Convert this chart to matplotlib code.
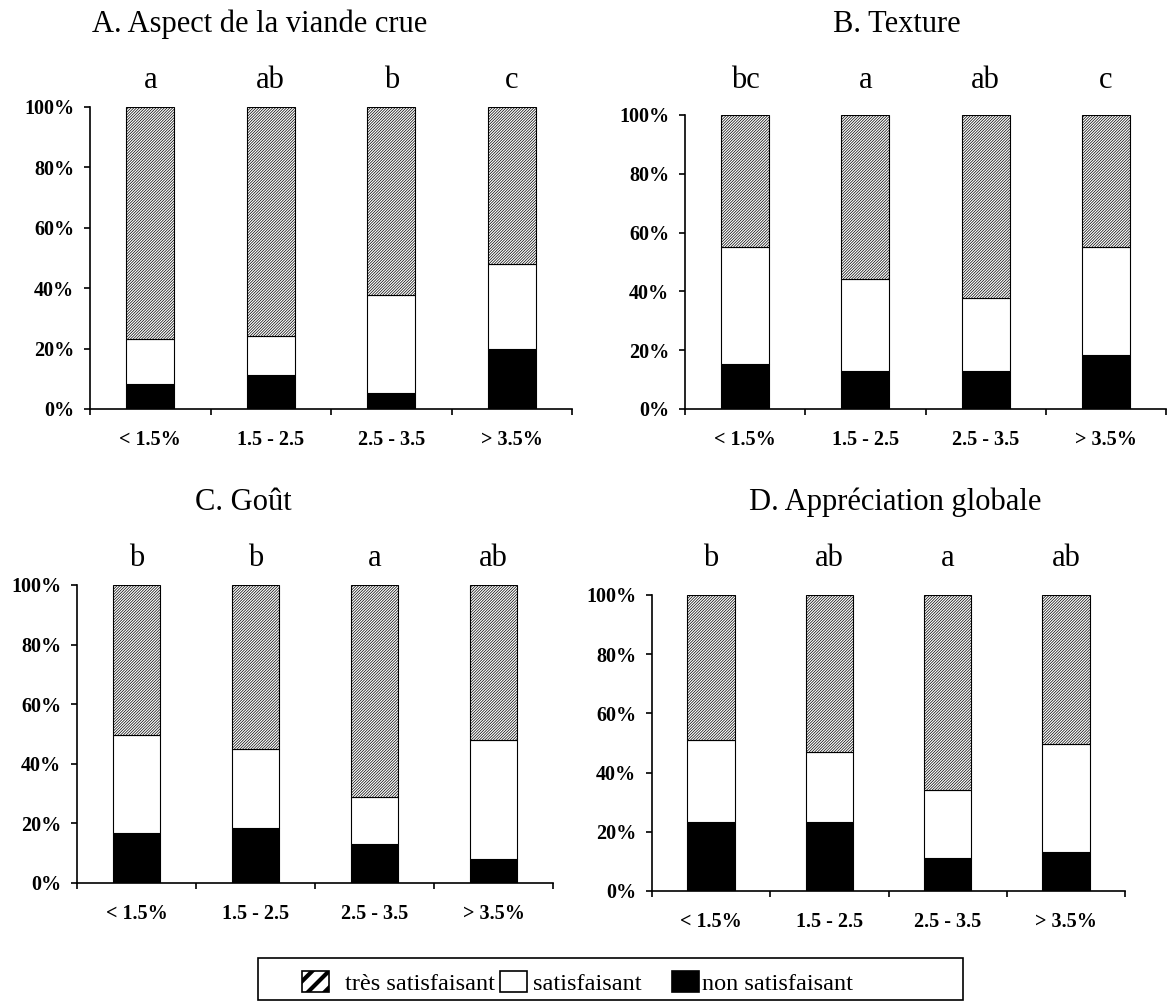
import numpy as np
import matplotlib
matplotlib.use('Agg')
import matplotlib.pyplot as plt
from matplotlib.patches import Patch, Rectangle
import matplotlib.transforms as mtransforms

plt.rcParams['font.family'] = ['Liberation Serif', 'DejaVu Serif']
plt.rcParams['hatch.linewidth'] = 0.5

# data (percent of panel per class)
categories = ['< 1.5%', '1.5 - 2.5', '2.5 - 3.5', '> 3.5%']
titles = ['A. Aspect de la viande crue', 'B. Texture', 'C. Goût',
          'D. Appréciation globale']
series_names = ['très satisfaisant', 'satisfaisant', 'non satisfaisant']

non_A = [8.4, 11.2, 5.4, 20.0]
sat_A = [14.9, 12.9, 32.5, 28.0]
tres_A = [76.7, 75.9, 62.1, 52.0]
letters_A = ['a', 'ab', 'b', 'c']

non_B = [15.4, 13.0, 13.0, 18.3]
sat_B = [39.7, 31.2, 24.7, 36.8]
tres_B = [44.9, 55.8, 62.3, 44.9]
letters_B = ['bc', 'a', 'ab', 'c']

non_C = [16.9, 18.3, 13.0, 8.1]
sat_C = [32.8, 26.6, 15.9, 40.0]
tres_C = [50.3, 55.1, 71.1, 51.9]
letters_C = ['b', 'b', 'a', 'ab']

non_D = [23.4, 23.4, 11.1, 13.3]
sat_D = [27.5, 23.4, 23.0, 36.5]
tres_D = [49.1, 53.2, 65.9, 50.2]
letters_D = ['b', 'ab', 'a', 'ab']

panels = [
    (non_A, sat_A, tres_A, letters_A),
    (non_B, sat_B, tres_B, letters_B),
    (non_C, sat_C, tres_C, letters_C),
    (non_D, sat_D, tres_D, letters_D),
]

W, H = 1168, 1001
fig = plt.figure(figsize=(W / 100, H / 100), dpi=100)

# axes boxes in pixels: left, right, top(100%), bottom(0%)
boxes = [(90, 572, 107, 409), (685, 1166, 115, 409),
         (77, 553, 585, 883), (652, 1125, 595, 891)]
# title baselines (pixels)
title_pos = [(260, 32), (897, 32), (243, 510), (895, 510)]
letter_base = [88, 88, 566, 566]

for k, (non, sat, tres, letters) in enumerate(panels):
    l, r, t, b = boxes[k]
    ax = fig.add_axes([l / W, 1 - b / H, (r - l) / W, (b - t) / H])
    x = np.arange(len(categories))
    non = np.array(non)
    sat = np.array(sat)
    tres = np.array(tres)
    bw = 0.4
    ax.bar(x, non, bw, color='black', edgecolor='black', linewidth=0.8)
    ax.bar(x, sat, bw, bottom=non, color='white', edgecolor='black', linewidth=0.8)
    ax.bar(x, tres, bw, bottom=non + sat, color='white', edgecolor='black',
           linewidth=0.8, hatch='/' * 12)

    ax.set_xlim(-0.5, len(categories) - 0.5)
    ax.set_ylim(0, 100)
    ax.spines['top'].set_visible(False)
    ax.spines['right'].set_visible(False)
    ax.spines['left'].set_linewidth(1.2)
    ax.spines['bottom'].set_linewidth(1.2)

    ax.set_yticks([0, 20, 40, 60, 80, 100])
    ax.set_yticklabels(['0%', '20%', '40%', '60%', '80%', '100%'],
                       fontsize=14.5, fontweight='bold')
    ax.tick_params(axis='y', direction='out', length=4.5, width=1.2, pad=7)

    ax.set_xticks(np.arange(len(categories) + 1) - 0.5)
    ax.set_xticklabels([])
    ax.tick_params(axis='x', which='major', direction='out', length=4.5, width=1.2)
    ax.set_xticks(x, minor=True)
    ax.set_xticklabels(categories, minor=True, fontsize=14.5, fontweight='bold')
    ax.tick_params(axis='x', which='minor', length=0, pad=15)

    trans = mtransforms.blended_transform_factory(ax.transData, fig.transFigure)
    for i, s in enumerate(letters):
        ax.text(x[i], 1 - letter_base[k] / H, s, transform=trans, ha='center',
                va='baseline', fontsize=22, clip_on=False)

    tx, ty = title_pos[k]
    fig.text(tx / W, 1 - ty / H, titles[k], ha='center', va='baseline', fontsize=22)

# legend box and entries
fig.add_artist(Rectangle((258 / W, 1 - 1000 / H), (963 - 258) / W, 42 / H,
                         transform=fig.transFigure, fill=False,
                         edgecolor='black', linewidth=1.2))
handles = [Patch(facecolor='white', edgecolor='black', linewidth=1.2, hatch='//'),
           Patch(facecolor='white', edgecolor='black', linewidth=1.2),
           Patch(facecolor='black', edgecolor='black', linewidth=1.2)]
swatch_x = [302, 500, 672]
text_pad = [0.65, 0.25, 0.12]
for h, name, sx, tp in zip(handles, series_names, swatch_x, text_pad):
    with plt.rc_context({'hatch.linewidth': 3.0}):
        fig.legend([h], [name], loc='center left',
                   bbox_to_anchor=(sx / W, 1 - 983 / H), frameon=False,
                   fontsize=17.5, handlelength=1.1, handleheight=0.95,
                   handletextpad=tp, borderpad=0, borderaxespad=0)

fig.savefig('out.png', dpi=100)
